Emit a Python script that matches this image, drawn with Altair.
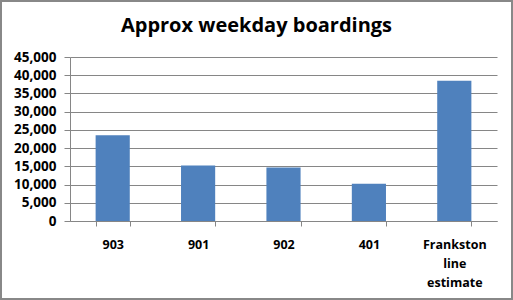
import altair as alt
import pandas as pd

routes = ["903", "901", "902", "401", "Frankston line estimate"]
boardings = [23500, 15200, 14700, 10200, 38500]
title_text = ["Approx weekday boardings"]

df = pd.DataFrame({"route": routes, "boardings": boardings})

W, H = 427, 164
PL, PT, PR, PB = 70, 57, 16, 79

bars = alt.Chart(df).mark_bar(color="#4F81BD").encode(
    x=alt.X("route:N", sort=routes,
            scale=alt.Scale(paddingInner=0.6, paddingOuter=0.3),
            axis=alt.Axis(title=None, labelAngle=0, labelFont="Open Sans",
                          labelFontSize=12.5, labelFontWeight="bold",
                          labelColor="#000000", labelPadding=12,
                          labelExpr="split(datum.label, ' ')",
                          labelLineHeight=19,
                          domainColor="#868686", tickColor="#868686",
                          tickSize=5, tickBand="extent", grid=False)),
    y=alt.Y("boardings:Q",
            scale=alt.Scale(domain=[0, 45000]),
            axis=alt.Axis(title=None, values=list(range(0, 45001, 5000)),
                          labelExpr="format(datum.value, ',.0f')",
                          labelFont="Open Sans", labelFontSize=13.5,
                          labelFontWeight="bold", labelColor="#000000",
                          labelPadding=8, tickSize=6, tickColor="#868686",
                          domainColor="#868686", gridColor="#868686",
                          gridWidth=1)),
)

title = alt.Chart(pd.DataFrame({"t": title_text})).mark_text(
    font="Open Sans", fontSize=20, fontWeight="bold", color="#000000",
    align="center", baseline="alphabetic",
).encode(text="t:N", x=alt.value(W / 2 - 27), y=alt.value(-25))

border = alt.Chart(df).mark_rect(fill=None, stroke="#888888", strokeWidth=1.5).encode(
    x=alt.value(-PL + 1), x2=alt.value(W + PR - 1),
    y=alt.value(-PT + 1), y2=alt.value(H + PB - 1),
)

chart = alt.layer(bars, title, border).properties(
    width=W, height=H,
    autosize=alt.AutoSizeParams(type="none"),
    padding={"left": PL, "top": PT, "right": PR, "bottom": PB},
).configure_view(stroke=None)

chart.save("out.html", embed_options={"renderer": "svg", "actions": False})
